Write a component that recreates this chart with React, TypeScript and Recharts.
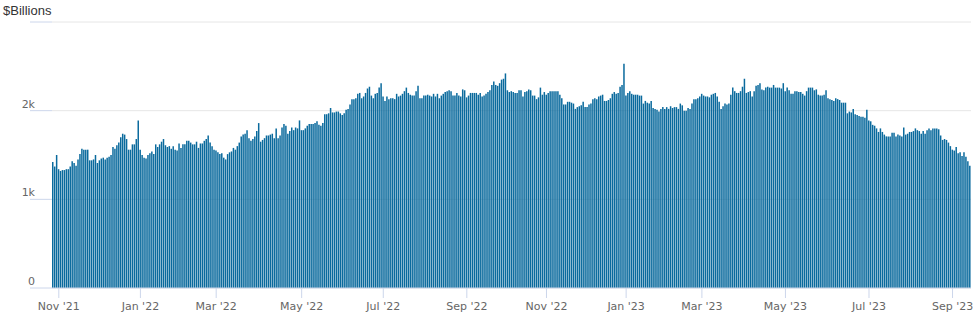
import React from "react";
import { BarChart, Bar, XAxis, YAxis, CartesianGrid } from "recharts";

// Daily values, $ billions, one array per month (business days only)
const oct21 = [1420, 1370, 1500];
const nov21 = [1340, 1320, 1330, 1330, 1340, 1340, 1370, 1430, 1410, 1380, 1450, 1510, 1570, 1560, 1560, 1560, 1440, 1440, 1450, 1500];
const dec21 = [1410, 1440, 1460, 1470, 1450, 1470, 1480, 1500, 1590, 1570, 1610, 1640, 1700, 1740, 1730, 1680, 1560, 1560, 1620, 1620, 1680, 1890];
const jan22 = [1560, 1500, 1470, 1460, 1500, 1520, 1540, 1510, 1620, 1590, 1620, 1650, 1680, 1610, 1590, 1600, 1570, 1600, 1560, 1550];
const feb22 = [1630, 1580, 1620, 1620, 1660, 1660, 1640, 1620, 1620, 1650, 1580, 1630, 1630, 1660, 1680, 1720, 1640, 1600, 1560];
const mar22 = [1550, 1530, 1510, 1520, 1470, 1450, 1510, 1530, 1540, 1580, 1560, 1600, 1640, 1710, 1730, 1740, 1780, 1690, 1660, 1680, 1710, 1770, 1860];
const apr22 = [1650, 1670, 1690, 1720, 1720, 1730, 1740, 1690, 1800, 1690, 1720, 1810, 1850, 1830, 1740, 1770, 1810, 1780, 1810, 1800, 1890];
const may22 = [1780, 1780, 1800, 1830, 1850, 1850, 1850, 1860, 1880, 1840, 1830, 1860, 1960, 1960, 1970, 2030, 1980, 1980, 1990, 1990, 1970];
const jun22 = [1950, 1970, 2010, 2020, 2070, 2130, 2130, 2140, 2190, 2200, 2140, 2160, 2200, 2250, 2270, 2170, 2140, 2190, 2200, 2260, 2310];
const jul22 = [2160, 2110, 2160, 2130, 2140, 2140, 2130, 2190, 2160, 2170, 2190, 2220, 2260, 2200, 2180, 2170, 2170, 2220, 2280, 2140];
const aug22 = [2140, 2170, 2170, 2180, 2170, 2160, 2190, 2160, 2190, 2140, 2170, 2190, 2210, 2220, 2230, 2220, 2170, 2170, 2200, 2170, 2160, 2240, 2230];
const sep22 = [2150, 2170, 2200, 2200, 2200, 2200, 2180, 2200, 2160, 2170, 2190, 2210, 2230, 2290, 2330, 2290, 2280, 2310, 2350, 2360, 2420];
const oct22 = [2230, 2210, 2220, 2210, 2200, 2200, 2230, 2230, 2160, 2210, 2220, 2240, 2230, 2170, 2170, 2130, 2150, 2260, 2180, 2210];
const nov22 = [2180, 2200, 2220, 2220, 2220, 2220, 2220, 2180, 2140, 2070, 2070, 2100, 2100, 2090, 2080, 2020, 2040, 2050, 2060, 2100];
const dec22 = [2040, 2040, 2070, 2080, 2130, 2140, 2130, 2160, 2170, 2180, 2110, 2110, 2120, 2140, 2190, 2210, 2190, 2200, 2270, 2290, 2530];
const jan23 = [2170, 2200, 2220, 2190, 2180, 2180, 2180, 2170, 2170, 2080, 2110, 2090, 2080, 2110, 2030, 2020, 2010, 1990, 2020, 2040];
const feb23 = [2020, 2040, 2020, 2050, 2030, 2040, 2040, 2020, 2080, 2060, 2000, 2000, 2030, 2020, 2080, 2130, 2130, 2140, 2160];
const mar23 = [2190, 2170, 2160, 2160, 2150, 2180, 2190, 2200, 2160, 2100, 2020, 2050, 2080, 2070, 2080, 2180, 2260, 2220, 2200, 2200, 2220, 2270, 2360];
const apr23 = [2200, 2210, 2220, 2160, 2220, 2280, 2290, 2310, 2240, 2230, 2260, 2270, 2260, 2260, 2290, 2260, 2260, 2260, 2250, 2310];
const may23 = [2220, 2260, 2230, 2190, 2190, 2220, 2220, 2210, 2210, 2190, 2170, 2220, 2260, 2260, 2260, 2230, 2240, 2180, 2170, 2170, 2180, 2230];
const jun23 = [2140, 2130, 2120, 2110, 2140, 2130, 2120, 2090, 2090, 2090, 1970, 1990, 1980, 2020, 1960, 1950, 1940, 1930, 1930, 1920, 2010];
const jul23 = [1890, 1880, 1840, 1830, 1800, 1760, 1800, 1760, 1730, 1710, 1710, 1710, 1750, 1750, 1710, 1730, 1720, 1710, 1810, 1730];
const aug23 = [1740, 1760, 1760, 1770, 1800, 1780, 1770, 1740, 1770, 1740, 1780, 1800, 1780, 1800, 1800, 1800, 1790, 1720, 1670, 1680, 1670, 1640, 1600];
const sep23 = [1560, 1550, 1590, 1520, 1530, 1490, 1530, 1480, 1430, 1380];

const months = [
  "Oct '21", "Nov '21", "Dec '21", "Jan '22", "Feb '22", "Mar '22", "Apr '22", "May '22",
  "Jun '22", "Jul '22", "Aug '22", "Sep '22", "Oct '22", "Nov '22", "Dec '22", "Jan '23",
  "Feb '23", "Mar '23", "Apr '23", "May '23", "Jun '23", "Jul '23", "Aug '23", "Sep '23",
];
const monthValues = [
  oct21, nov21, dec21, jan22, feb22, mar22, apr22, may22, jun22, jul22, aug22, sep22,
  oct22, nov22, dec22, jan23, feb23, mar23, apr23, may23, jun23, jul23, aug23, sep23,
];
const tickMonths = [
  "Nov '21", "Jan '22", "Mar '22", "May '22", "Jul '22", "Sep '22",
  "Nov '22", "Jan '23", "Mar '23", "May '23", "Jul '23", "Sep '23",
];
const yTicks = [0, 1000, 2000, 3000];

const data = months.flatMap((m, mi) =>
  monthValues[mi].map((v, i) => ({ key: `${m}|${i}`, v }))
);
const xTicks = tickMonths.map((m) => `${m}|0`);

const axisFont = "'DejaVu Sans', Verdana, sans-serif";

function XTick({ x, y, payload }: any) {
  return (
    <text x={x} y={y + 10} textAnchor="middle" fill="#666" fontSize={11} fontFamily={axisFont}>
      {String(payload.value).split("|")[0]}
    </text>
  );
}

function YTick({ x, y, payload }: any) {
  if (payload.value === 3000) return null;
  const label = payload.value === 0 ? "0" : `${payload.value / 1000}k`;
  return (
    <text x={x + 7} y={y - 3} textAnchor="end" fill="#666" fontSize={11} fontFamily={axisFont}>
      {label}
    </text>
  );
}

export default function App() {
  return (
    <div style={{ position: "relative", width: 980, height: 316, background: "#fff" }}>
      <style>{"body{margin:0}"}</style>
      <span
        style={{
          position: "absolute",
          left: 3,
          top: 3,
          fontFamily: "'Liberation Sans', Arial, sans-serif",
          fontSize: 13,
          lineHeight: "15px",
          color: "#333",
        }}
      >
        $Billions
      </span>
      <BarChart
        width={980}
        height={316}
        data={data}
        margin={{ top: 22, right: 9, bottom: 0, left: 0 }}
        barSize={1.5}
      >
        <CartesianGrid vertical={false} stroke="#e6e6e6" />
        <XAxis
          dataKey="key"
          ticks={xTicks}
          interval={0}
          height={28}
          tickSize={10}
          tickLine={{ stroke: "#ccd6eb" }}
          axisLine={{ stroke: "#ccd6eb" }}
          tick={<XTick />}
        />
        <YAxis
          domain={[0, 3000]}
          ticks={yTicks}
          width={52}
          tickSize={22}
          tickLine={{ stroke: "#ccd6eb" }}
          axisLine={false}
          tick={<YTick />}
        />
        <Bar dataKey="v" fill="#0a6a9d" barSize={1.5} isAnimationActive={false} />
      </BarChart>
    </div>
  );
}
